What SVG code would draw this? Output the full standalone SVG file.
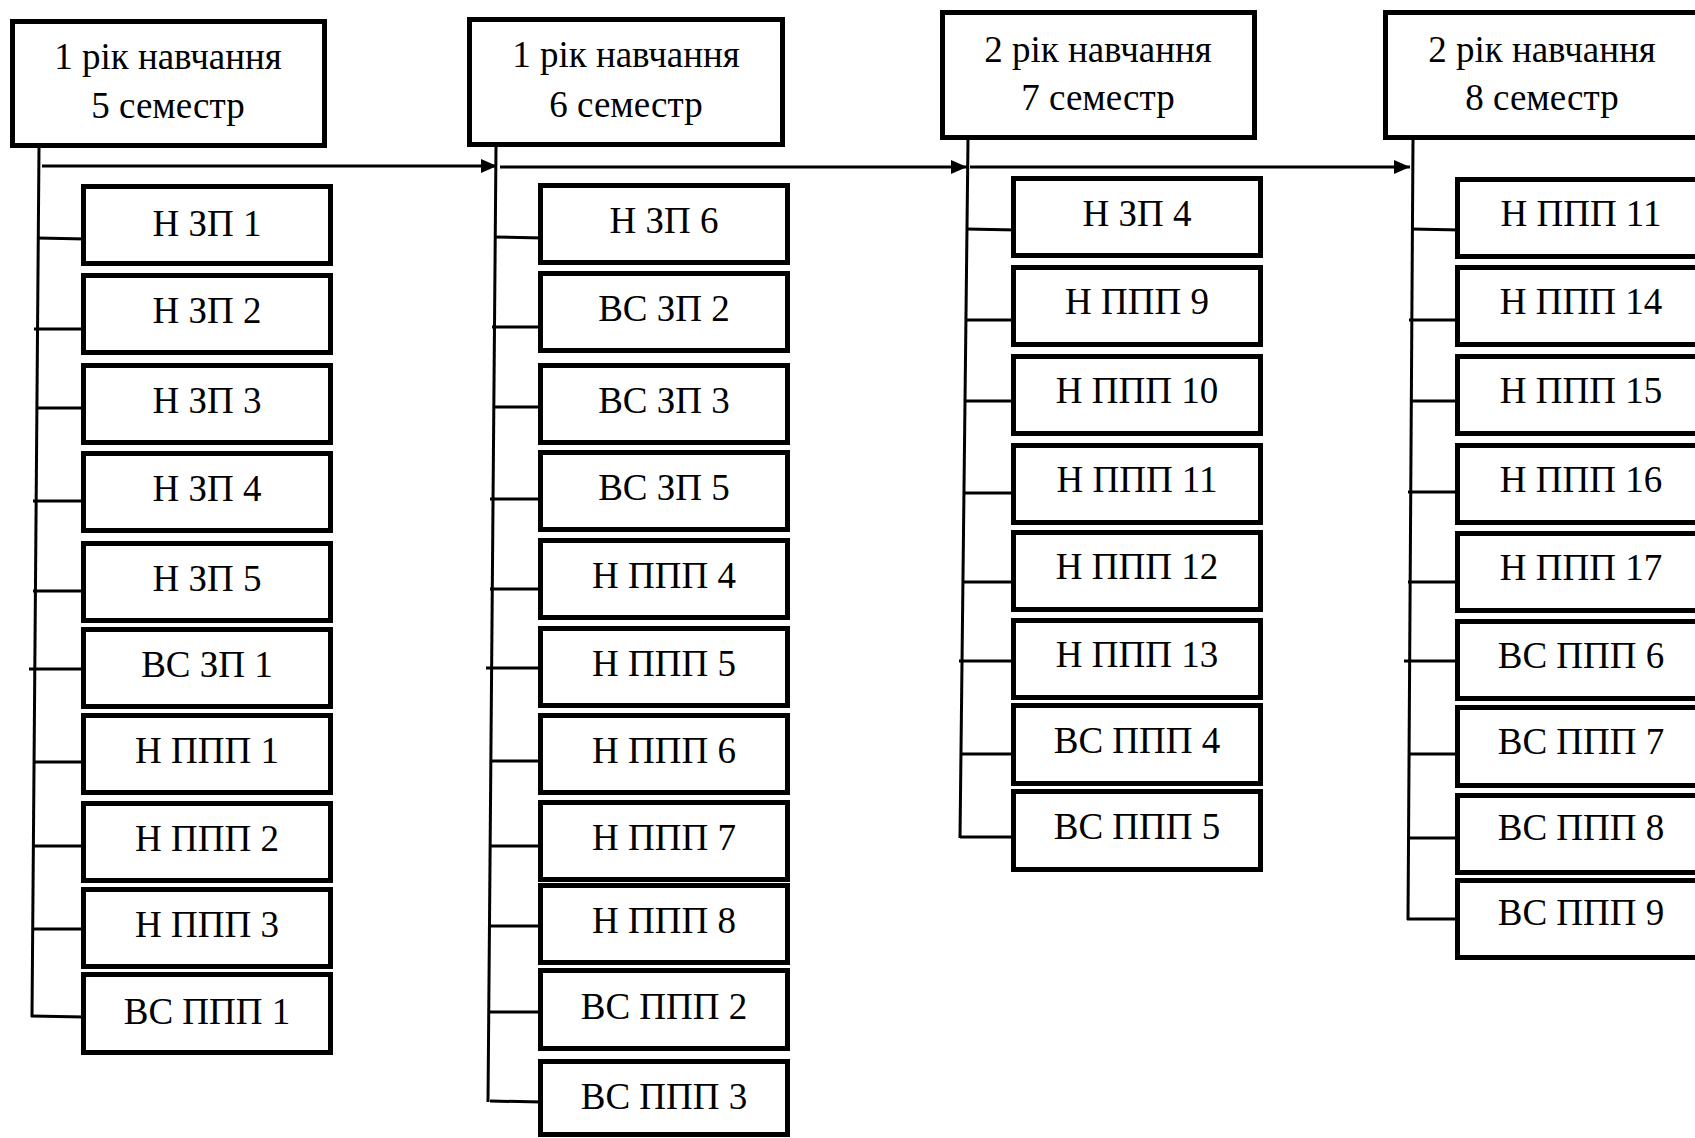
<svg xmlns="http://www.w3.org/2000/svg" width="1695" height="1138" viewBox="0 0 1695 1138">
<style>
.box{fill:#fff;stroke:#000;stroke-width:5}
.lbl{font-family:"Liberation Serif","Times New Roman",serif;font-size:37px;text-anchor:middle;fill:#000}
.ln{stroke:#000;stroke-width:3;fill:none}
</style>
<defs>
<marker id="ah" markerWidth="16" markerHeight="14" refX="16" refY="7" orient="auto" markerUnits="userSpaceOnUse"><path d="M0,0 L16,7 L0,14 Z" fill="#000"/></marker>
</defs>
<rect width="1695" height="1138" fill="#fff"/>
<g id="connectors">
<path class="ln" d="M39,148 L32,1017"/>
<path class="ln" d="M496,147 L488,1102"/>
<path class="ln" d="M968,140 L960,838"/>
<path class="ln" d="M1413,140 L1408,920"/>
<path class="ln" d="M42,166 L497,166" marker-end="url(#ah)"/>
<path class="ln" d="M500,167 L967,167" marker-end="url(#ah)"/>
<path class="ln" d="M970,167 L1410,167" marker-end="url(#ah)"/>
<path class="ln" d="M37,238 L86,239 M34,329 L86,329 M36,408 L86,408 M33,501 L84,501 M33,591 L84,591 M29,669 L84,669 M34,762 L84,762 M33,846 L84,846 M33,929 L86,929 M31,1016 L84,1017"/>
<path class="ln" d="M494,237 L543,238 M492,327 L545,327 M493,407 L545,407 M490,499 L541,499 M490,589 L541,589 M486,668 L541,668 M491,761 L541,761 M490,846 L541,846 M490,926 L544,926 M489,1012 L542,1012 M490,1101 L541,1102"/>
<path class="ln" d="M966,229 L1017,230 M965,320 L1017,320 M965,401 L1019,401 M963,493 L1014,493 M963,582 L1015,582 M959,661 L1014,661 M961,754 L1016,754 M960,837 L1014,837"/>
<path class="ln" d="M1411,229 L1461,230 M1409,320 L1461,320 M1410,401 L1463,401 M1408,492 L1458,492 M1408,582 L1458,582 M1404,661 L1458,661 M1408,754 L1458,754 M1408,838 L1458,838 M1407,919 L1460,919"/>
</g>
<g id="h1"><rect class="box" x="12.5" y="21.5" width="312" height="124"/><text class="lbl" x="168" y="69">1 рік навчання</text><text class="lbl" x="168" y="118">5 семестр</text></g>
<g id="h2"><rect class="box" x="469.5" y="19.5" width="313" height="125"/><text class="lbl" x="626" y="67">1 рік навчання</text><text class="lbl" x="626" y="117">6 семестр</text></g>
<g id="h3"><rect class="box" x="942.5" y="12.5" width="312" height="125"/><text class="lbl" x="1098" y="62">2 рік навчання</text><text class="lbl" x="1098" y="110">7 семестр</text></g>
<g id="h4"><rect class="box" x="1385.5" y="12.5" width="312" height="125"/><text class="lbl" x="1542" y="62">2 рік навчання</text><text class="lbl" x="1542" y="110">8 семестр</text></g>
<g id="c1n1"><rect class="box" x="83.5" y="186.5" width="247" height="77"/><text class="lbl" x="207" y="236">Н ЗП 1</text></g>
<g id="c1n2"><rect class="box" x="83.5" y="275.5" width="247" height="77"/><text class="lbl" x="207" y="323">Н ЗП 2</text></g>
<g id="c1n3"><rect class="box" x="83.5" y="365.5" width="247" height="77"/><text class="lbl" x="207" y="413">Н ЗП 3</text></g>
<g id="c1n4"><rect class="box" x="83.5" y="453.5" width="247" height="77"/><text class="lbl" x="207" y="501">Н ЗП 4</text></g>
<g id="c1n5"><rect class="box" x="83.5" y="543.5" width="247" height="77"/><text class="lbl" x="207" y="591">Н ЗП 5</text></g>
<g id="c1n6"><rect class="box" x="83.5" y="629.5" width="247" height="77"/><text class="lbl" x="207" y="677">ВС ЗП 1</text></g>
<g id="c1n7"><rect class="box" x="83.5" y="715.5" width="247" height="77"/><text class="lbl" x="207" y="763">Н ППП 1</text></g>
<g id="c1n8"><rect class="box" x="83.5" y="803.5" width="247" height="77"/><text class="lbl" x="207" y="851">Н ППП 2</text></g>
<g id="c1n9"><rect class="box" x="83.5" y="889.5" width="247" height="77"/><text class="lbl" x="207" y="937">Н ППП 3</text></g>
<g id="c1n10"><rect class="box" x="83.5" y="974.5" width="247" height="78"/><text class="lbl" x="207" y="1024">ВС ППП 1</text></g>
<g id="c2n1"><rect class="box" x="540.5" y="185.5" width="247" height="77"/><text class="lbl" x="664" y="233">Н ЗП 6</text></g>
<g id="c2n2"><rect class="box" x="540.5" y="273.5" width="247" height="77"/><text class="lbl" x="664" y="321">ВС ЗП 2</text></g>
<g id="c2n3"><rect class="box" x="540.5" y="365.5" width="247" height="77"/><text class="lbl" x="664" y="413">ВС ЗП 3</text></g>
<g id="c2n4"><rect class="box" x="540.5" y="452.5" width="247" height="77"/><text class="lbl" x="664" y="500">ВС ЗП 5</text></g>
<g id="c2n5"><rect class="box" x="540.5" y="540.5" width="247" height="77"/><text class="lbl" x="664" y="588">Н ППП 4</text></g>
<g id="c2n6"><rect class="box" x="540.5" y="628.5" width="247" height="77"/><text class="lbl" x="664" y="676">Н ППП 5</text></g>
<g id="c2n7"><rect class="box" x="540.5" y="715.5" width="247" height="77"/><text class="lbl" x="664" y="763">Н ППП 6</text></g>
<g id="c2n8"><rect class="box" x="540.5" y="802.5" width="247" height="77"/><text class="lbl" x="664" y="850">Н ППП 7</text></g>
<g id="c2n9"><rect class="box" x="540.5" y="885.5" width="247" height="77"/><text class="lbl" x="664" y="933">Н ППП 8</text></g>
<g id="c2n10"><rect class="box" x="540.5" y="970.5" width="247" height="78"/><text class="lbl" x="664" y="1019">ВС ППП 2</text></g>
<g id="c2n11"><rect class="box" x="540.5" y="1061.5" width="247" height="73"/><text class="lbl" x="664" y="1109">ВС ППП 3</text></g>
<g id="c3n1"><rect class="box" x="1013.5" y="178.5" width="247" height="77"/><text class="lbl" x="1137" y="226">Н ЗП 4</text></g>
<g id="c3n2"><rect class="box" x="1013.5" y="267.5" width="247" height="77"/><text class="lbl" x="1137" y="314">Н ППП 9</text></g>
<g id="c3n3"><rect class="box" x="1013.5" y="356.5" width="247" height="77"/><text class="lbl" x="1137" y="403">Н ППП 10</text></g>
<g id="c3n4"><rect class="box" x="1013.5" y="445.5" width="247" height="77"/><text class="lbl" x="1137" y="492">Н ППП 11</text></g>
<g id="c3n5"><rect class="box" x="1013.5" y="532.5" width="247" height="77"/><text class="lbl" x="1137" y="579">Н ППП 12</text></g>
<g id="c3n6"><rect class="box" x="1013.5" y="620.5" width="247" height="77"/><text class="lbl" x="1137" y="667">Н ППП 13</text></g>
<g id="c3n7"><rect class="box" x="1013.5" y="705.5" width="247" height="78"/><text class="lbl" x="1137" y="753">ВС ППП 4</text></g>
<g id="c3n8"><rect class="box" x="1013.5" y="791.5" width="247" height="78"/><text class="lbl" x="1137" y="839">ВС ППП 5</text></g>
<g id="c4n1"><rect class="box" x="1457.5" y="179.5" width="247" height="77"/><text class="lbl" x="1581" y="226">Н ППП 11</text></g>
<g id="c4n2"><rect class="box" x="1457.5" y="267.5" width="247" height="77"/><text class="lbl" x="1581" y="314">Н ППП 14</text></g>
<g id="c4n3"><rect class="box" x="1457.5" y="356.5" width="247" height="77"/><text class="lbl" x="1581" y="403">Н ППП 15</text></g>
<g id="c4n4"><rect class="box" x="1457.5" y="445.5" width="247" height="77"/><text class="lbl" x="1581" y="492">Н ППП 16</text></g>
<g id="c4n5"><rect class="box" x="1457.5" y="533.5" width="247" height="77"/><text class="lbl" x="1581" y="580">Н ППП 17</text></g>
<g id="c4n6"><rect class="box" x="1457.5" y="621.5" width="247" height="77"/><text class="lbl" x="1581" y="668">ВС ППП 6</text></g>
<g id="c4n7"><rect class="box" x="1457.5" y="707.5" width="247" height="78"/><text class="lbl" x="1581" y="754">ВС ППП 7</text></g>
<g id="c4n8"><rect class="box" x="1457.5" y="795.5" width="247" height="77"/><text class="lbl" x="1581" y="840">ВС ППП 8</text></g>
<g id="c4n9"><rect class="box" x="1457.5" y="880.5" width="247" height="77"/><text class="lbl" x="1581" y="925">ВС ППП 9</text></g>
</svg>
